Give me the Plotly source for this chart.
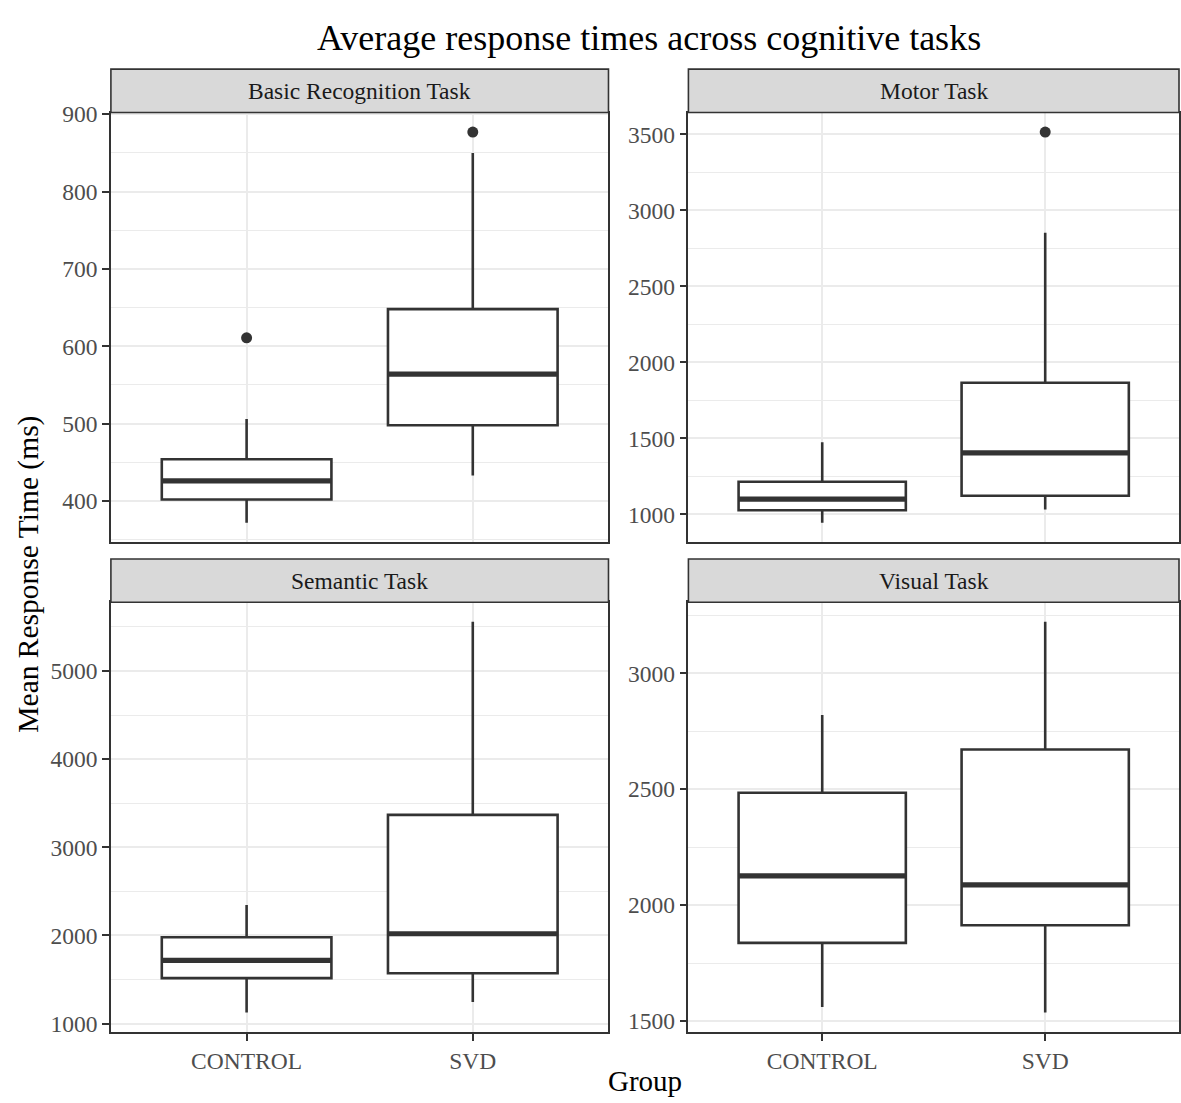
import plotly.graph_objects as go

W, H = 1181, 1103

# Task panels (facet order) and the two groups on the x axis
tasks = ["Basic Recognition Task", "Motor Task", "Semantic Task", "Visual Task"]
groups = ["CONTROL", "SVD"]

# Boxplot summaries, one row per task, columns = [CONTROL, SVD]
whisker_low = [[372, 433], [946, 1032], [1126, 1244], [1560, 1537]]
q1 = [[402, 498], [1028, 1123], [1515, 1570], [1837, 1913]]
median = [[426, 564], [1101, 1405], [1716, 2019], [2126, 2087]]
q3 = [[454, 648], [1215, 1866], [1979, 3368], [2485, 2671]]
whisker_high = [[506, 850], [1474, 2853], [2345, 5558], [2820, 3222]]
outliers = [[[611], [877]], [[], [3515]], [[], []], [[], []]]

# Major y tick spacing per panel
y_step = [100, 500, 1000, 500]

DARK = "#333333"
GRID = "#EBEBEB"
TICK_TXT = "#4D4D4D"
FONT = "Liberation Serif"
BOX_W = 0.75
SMALL = 23.5

# panel geometry in pixels: (left, right) per column, (strip_top, plot_top, plot_bottom) per row
cols = [(111, 609), (689, 1180)]
rows = [(59, 103, 539), (556, 600, 1036)]


def fx(px):
    return px / W


def fy(py):
    return 1 - py / H


fig = go.Figure()
shapes = []
annotations = []

for i, task in enumerate(tasks):
    r, c = divmod(i, 2)
    left, right = cols[c]
    s_top, p_top, p_bot = rows[r]
    n = "" if i == 0 else str(i + 1)
    xa, ya = "x" + n, "y" + n

    for g in range(2):
        pos = g + 1
        fig.add_trace(go.Box(
            x=[pos], q1=[q1[i][g]], median=[median[i][g]], q3=[q3[i][g]],
            lowerfence=[whisker_low[i][g]], upperfence=[whisker_high[i][g]],
            width=BOX_W, whiskerwidth=0, boxpoints=False,
            fillcolor="white", line=dict(color=DARK, width=2.6),
            xaxis=xa, yaxis=ya, showlegend=False, hoverinfo="skip",
        ))
        # thicker median bar
        fig.add_trace(go.Scatter(
            x=[pos - BOX_W / 2, pos + BOX_W / 2],
            y=[median[i][g], median[i][g]],
            mode="lines", line=dict(color=DARK, width=5.2),
            xaxis=xa, yaxis=ya, showlegend=False, hoverinfo="skip",
        ))
        if outliers[i][g]:
            fig.add_trace(go.Scatter(
                x=[pos] * len(outliers[i][g]), y=outliers[i][g],
                mode="markers", marker=dict(color=DARK, size=11),
                xaxis=xa, yaxis=ya, showlegend=False, hoverinfo="skip",
            ))

    # y range: data extent plus 5% padding on each side
    vals = whisker_low[i] + whisker_high[i] + [v for o in outliers[i] for v in o]
    lo, hi = min(vals), max(vals)
    pad = (hi - lo) * 0.05
    step = y_step[i]

    axis_common = dict(
        showline=True, mirror=True, linecolor=DARK, linewidth=1.6,
        showgrid=True, gridcolor=GRID, gridwidth=1.8, zeroline=False,
        tickfont=dict(family=FONT, size=SMALL, color=TICK_TXT),
        ticklen=7, tickwidth=2, tickcolor=DARK,
    )
    bottom_row = r == 1
    fig.layout["xaxis" + n] = dict(
        axis_common,
        domain=[fx(left), fx(right)], anchor=ya,
        range=[0.4, 2.6], tickmode="array", tickvals=[1, 2], ticktext=groups,
        ticks="outside" if bottom_row else "", showticklabels=bottom_row,
    )
    fig.layout["yaxis" + n] = dict(
        axis_common,
        domain=[fy(p_bot), fy(p_top)], anchor=xa,
        range=[lo - pad, hi + pad], tick0=0, dtick=step, ticks="outside",
        minor=dict(showgrid=True, gridcolor=GRID, gridwidth=1.0, dtick=step / 2, tick0=0),
    )

    # facet strip
    shapes.append(dict(
        type="rect", xref="paper", yref="paper",
        x0=fx(left), x1=fx(right), y0=fy(p_top), y1=fy(s_top),
        fillcolor="#D9D9D9", line=dict(color=DARK, width=1.6), layer="above",
    ))
    annotations.append(dict(
        text=task, xref="paper", yref="paper", showarrow=False,
        x=fx((left + right) / 2), y=fy((s_top + p_top) / 2),
        xanchor="center", yanchor="middle",
        font=dict(family=FONT, size=SMALL, color="#1A1A1A"),
    ))

annotations += [
    dict(text="Average response times across cognitive tasks", xref="paper", yref="paper",
         x=fx(650), y=fy(27), xanchor="center", yanchor="middle", showarrow=False,
         font=dict(family=FONT, size=36, color="black")),
    dict(text="Mean Response Time (ms)", xref="paper", yref="paper",
         x=fx(29), y=fy(571), xanchor="center", yanchor="middle", showarrow=False,
         textangle=-90, font=dict(family=FONT, size=29.5, color="black")),
    dict(text="Group", xref="paper", yref="paper",
         x=fx(646), y=fy(1086), xanchor="center", yanchor="middle", showarrow=False,
         font=dict(family=FONT, size=29, color="black")),
]

fig.update_layout(
    width=W, height=H,
    margin=dict(l=0, r=0, t=0, b=0),
    paper_bgcolor="white", plot_bgcolor="white",
    shapes=shapes, annotations=annotations,
    showlegend=False, boxmode="overlay",
)

fig.write_html("out.html")
